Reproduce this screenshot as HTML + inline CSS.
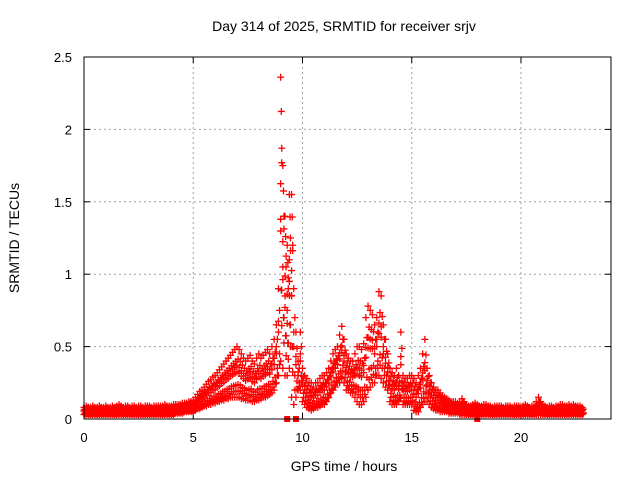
<!DOCTYPE html>
<html><head><meta charset="utf-8"><style>
body{margin:0;background:#fff;}
svg{display:block;font-family:"Liberation Sans",sans-serif;}
</style></head><body>
<svg id="c" width="640" height="480">
<text x="344" y="31" font-size="14" text-anchor="middle">Day 314 of 2025, SRMTID for receiver srjv</text>
<text x="344" y="471" font-size="14" text-anchor="middle">GPS time / hours</text>
<text x="19" y="238" font-size="14" text-anchor="middle" transform="rotate(-90 19 238)">SRMTID / TECUs</text>
<g id="grid"></g><g id="marks"></g>
<rect x="84" y="57" width="527" height="362" fill="none" stroke="#000"/>
</svg>
<script>
const xTicks=[0,5,10,15,20];
const yTicks=[0,0.5,1,1.5,2,2.5];
const yTickLabels=["0","0.5","1","1.5","2","2.5"];
const times=[];for(let i=0;i<=228;i++)times.push(i/10);
const lo=[
0.03,0.03,0.03,0.03,0.03,0.03,0.03,0.03,0.03,0.03,
0.03,0.03,0.03,0.03,0.03,0.03,0.03,0.03,0.03,0.03,
0.03,0.03,0.03,0.03,0.03,0.03,0.03,0.03,0.03,0.03,
0.03,0.03,0.03,0.03,0.03,0.03,0.03,0.03,0.03,0.03,
0.03,0.03,0.04,0.04,0.04,0.04,0.05,0.05,0.05,0.05,
0.05,0.06,0.07,0.07,0.08,0.09,0.09,0.10,0.10,0.11,
0.11,0.12,0.12,0.13,0.13,0.14,0.14,0.15,0.15,0.15,
0.15,0.15,0.14,0.14,0.13,0.13,0.13,0.12,0.12,0.13,
0.13,0.14,0.15,0.15,0.16,0.17,0.18,0.20,0.25,0.30,
0.40,0.35,0.30,0.30,0.35,0.15,0.10,0.15,0.20,0.20,
0.12,0.10,0.08,0.07,0.06,0.07,0.08,0.08,0.09,0.10,
0.10,0.12,0.15,0.18,0.20,0.22,0.25,0.25,0.28,0.25,
0.20,0.20,0.18,0.18,0.15,0.12,0.10,0.10,0.12,0.15,
0.20,0.22,0.25,0.25,0.30,0.30,0.28,0.25,0.22,0.20,
0.12,0.10,0.10,0.10,0.12,0.15,0.10,0.10,0.10,0.10,
0.10,0.06,0.05,0.05,0.08,0.10,0.12,0.12,0.10,0.08,
0.07,0.06,0.06,0.05,0.05,0.05,0.05,0.04,0.04,0.04,
0.04,0.04,0.03,0.03,0.03,0.03,0.03,0.03,0.03,0.03,
0.03,0.03,0.03,0.03,0.03,0.03,0.03,0.03,0.03,0.03,
0.03,0.03,0.03,0.03,0.03,0.03,0.03,0.03,0.03,0.03,
0.03,0.03,0.03,0.03,0.03,0.03,0.03,0.03,0.03,0.03,
0.03,0.03,0.03,0.03,0.03,0.03,0.03,0.03,0.03,0.03,
0.03,0.03,0.03,0.03,0.03,0.03,0.03,0.03,0.03];
const hi=[
0.08,0.09,0.08,0.08,0.09,0.08,0.08,0.09,0.08,0.08,
0.09,0.08,0.08,0.09,0.08,0.09,0.10,0.09,0.08,0.09,
0.09,0.08,0.09,0.09,0.08,0.09,0.09,0.08,0.09,0.09,
0.09,0.08,0.09,0.09,0.09,0.09,0.09,0.10,0.09,0.09,
0.09,0.10,0.10,0.10,0.10,0.11,0.11,0.11,0.12,0.12,
0.13,0.15,0.17,0.19,0.20,0.22,0.24,0.26,0.27,0.29,
0.30,0.32,0.34,0.36,0.38,0.40,0.42,0.44,0.46,0.48,
0.50,0.48,0.45,0.42,0.40,0.42,0.44,0.40,0.38,0.42,
0.45,0.42,0.44,0.46,0.48,0.45,0.50,0.55,0.65,0.90,
2.36,1.75,1.40,1.20,1.55,1.55,0.90,0.60,0.40,0.60,
0.35,0.30,0.28,0.25,0.25,0.22,0.25,0.25,0.28,0.30,
0.30,0.32,0.35,0.40,0.45,0.48,0.50,0.58,0.64,0.55,
0.45,0.42,0.40,0.40,0.45,0.50,0.50,0.48,0.52,0.70,
0.78,0.75,0.72,0.65,0.70,0.88,0.85,0.65,0.55,0.45,
0.35,0.32,0.30,0.35,0.30,0.60,0.30,0.28,0.28,0.30,
0.30,0.28,0.25,0.30,0.35,0.45,0.55,0.35,0.30,0.25,
0.22,0.20,0.20,0.18,0.16,0.15,0.14,0.13,0.12,0.12,
0.12,0.11,0.12,0.14,0.12,0.10,0.09,0.09,0.10,0.11,
0.10,0.09,0.09,0.10,0.10,0.09,0.09,0.08,0.09,0.09,
0.09,0.09,0.08,0.09,0.09,0.09,0.08,0.09,0.09,0.09,
0.08,0.09,0.10,0.09,0.08,0.09,0.09,0.12,0.15,0.12,
0.10,0.09,0.08,0.09,0.09,0.08,0.09,0.09,0.10,0.10,
0.09,0.09,0.10,0.09,0.10,0.09,0.09,0.09,0.08];
const zeroTimes=[9.3,9.7,18.0];
const NS="http://www.w3.org/2000/svg";
const X0=84,X1=611,Y0=419,Y1=57,XMAX=24.12,YMAX=2.5;
function xs(v){return X0+(X1-X0)*v/XMAX;}
function ys(v){return Y0-(Y0-Y1)*v/YMAX;}
const grid=document.getElementById('grid'),marks=document.getElementById('marks');
function el(t,a,p){const e=document.createElementNS(NS,t);for(const k in a)e.setAttribute(k,a[k]);p.appendChild(e);return e;}
xTicks.forEach(v=>{
 const x=xs(v);
 if(v>0){const g=el('line',{x1:x,x2:x,y1:Y1,y2:Y0,stroke:'#a0a0a0','stroke-dasharray':'2,3'},grid);
 
 }
 el('line',{x1:x,x2:x,y1:Y0,y2:Y0-6,stroke:'#000'},grid);
 el('line',{x1:x,x2:x,y1:Y1,y2:Y1+6,stroke:'#000'},grid);
 const t=el('text',{x:x,y:Y0+23,'font-size':13,'text-anchor':'middle'},grid);t.textContent=v;
 
 
});
yTicks.forEach((v,i)=>{
 const y=ys(v);
 if(v>0&&v<YMAX){const g=el('line',{x1:X0,x2:X1,y1:y,y2:y,stroke:'#a0a0a0','stroke-dasharray':'2,3'},grid);
 
 }
 el('line',{x1:X0,x2:X0+6,y1:y,y2:y,stroke:'#000'},grid);
 el('line',{x1:X1,x2:X1-6,y1:y,y2:y,stroke:'#000'},grid);
 const t=el('text',{x:X0-12,y:y+5,'font-size':13,'text-anchor':'end'},grid);t.textContent=yTickLabels[i];
 
 
});
function plus(t,v,col){
 const x=xs(t),y=ys(v);
 const p=el('path',{d:`M${x-3.5},${y}h7M${x},${y-3.5}v7`,stroke:col,'stroke-width':1.3,fill:'none'},marks);
 
 
}
times.forEach((t,i)=>{
 const a=lo[i],b=hi[i],m=(a+b)/2;
 if(b>0.9) plus(t+0.03,(a+m)/2,'#333');
 plus(t,a,'#f00');plus(t+0.05,(a+m)/2,'#f00');plus(t,m,'#f00');
 plus(t+0.05,(m+b)/2,'#f00');plus(t,b,'#f00');
 plus(t+0.05,(a*3+m)/4,'#f00');plus(t,(m*3+b)/4,'#f00');
 if(b>0.9){plus(t+0.05,b*0.75,'#f00');plus(t,b*0.55,'#f00');plus(t+0.03,b*0.9,'#f00');}
});
zeroTimes.forEach(t=>{
 const r=el('rect',{x:xs(t)-3,y:Y0-3,width:6,height:6,fill:'#f00'},marks);
 
 
});
</script>
</body></html>
